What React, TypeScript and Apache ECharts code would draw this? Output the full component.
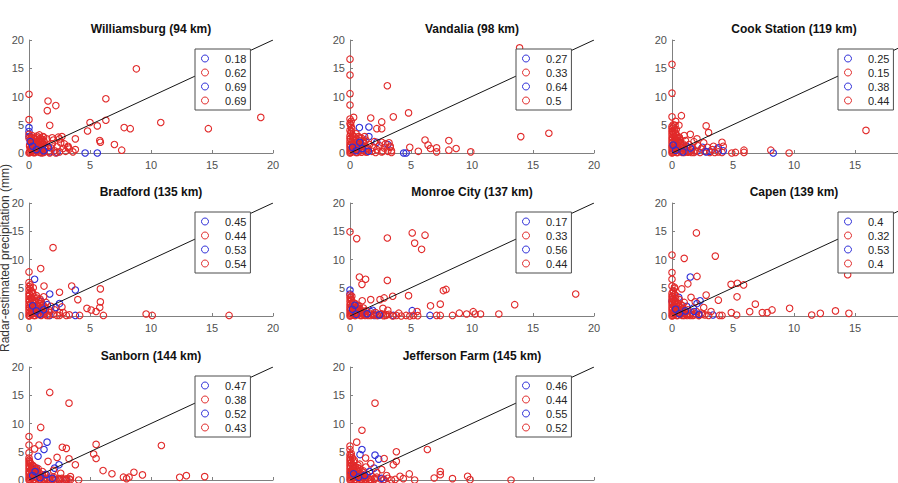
import { useEffect, useRef } from "react";
import * as echarts from "echarts";

// Station titles, in panel order (row by row)
const stationTitles = [
  "Williamsburg (94 km)",
  "Vandalia (98 km)",
  "Cook Station (119 km)",
  "Bradford (135 km)",
  "Monroe City (137 km)",
  "Capen (139 km)",
  "Sanborn (144 km)",
  "Jefferson Farm (145 km)",
];

// Correlation values shown in each panel's legend (blue, red, blue, red)
const williamsburgLegend = ["0.18", "0.62", "0.69", "0.69"];
const vandaliaLegend = ["0.27", "0.33", "0.64", "0.5"];
const cookStationLegend = ["0.25", "0.15", "0.38", "0.44"];
const bradfordLegend = ["0.45", "0.44", "0.53", "0.54"];
const monroeCityLegend = ["0.17", "0.33", "0.56", "0.44"];
const capenLegend = ["0.4", "0.32", "0.53", "0.4"];
const sanbornLegend = ["0.47", "0.38", "0.52", "0.43"];
const jeffersonFarmLegend = ["0.46", "0.44", "0.55", "0.52"];

const axisTicks = [0, 5, 10, 15, 20];

// ---- Williamsburg ----
const williamsburgBlue1 = [[0, 4.5], [0, 3.8], [0, 2.9], [4.6, 0], [5.6, 0], [0.9, 0.1], [1.7, 0.2], [2.3, 0.1]];
const williamsburgRedCore = [[0.05, 0.15], [0.25, 0.35], [0.45, 0.05], [0.65, 0.3], [0.85, 0.15], [1.05, 0.4], [1.25, 0.25], [0.1, 0.75], [0.3, 0.95], [0.5, 0.7], [0.7, 1.05], [0.9, 0.85], [1.1, 0.8], [1.3, 1.0], [0.05, 1.2], [0.2, 1.35], [0.4, 1.6], [0.6, 1.3], [0.8, 1.55], [1.0, 1.4], [1.2, 1.5], [0.15, 1.85], [0.35, 2.05], [0.55, 2.3], [0.75, 1.95], [0.95, 2.05], [1.15, 2.3], [0, 2.6], [0.2, 2.75], [0.45, 2.55], [0.65, 2.7], [0.85, 2.45], [1.05, 1.9], [0.3, 0.55], [0.6, 0.5]];
const williamsburgRed1 = [[0, 0], [0.1, 0.3], [0.2, 0.9], [0.05, 1.4], [0.3, 1.8], [0.1, 2.3], [0.4, 2.6], [0.5, 0.2], [0.6, 0.8], [0.45, 1.3], [0.7, 1.7], [0.8, 2.2], [0.9, 0.5], [1.0, 1.1], [1.1, 1.6], [1.2, 0.1], [1.3, 0.7], [1.25, 2.0], [1.5, 1.2], [1.6, 0.3], [1.8, 0.9], [1.9, 1.6], [2.1, 0.4], [2.3, 1.1], [2.5, 0.2], [2.6, 1.8], [2.8, 0.8], [3.0, 0.3], [3.2, 1.0], [0.15, 0.6], [0.35, 0.1], [0.55, 1.9], [0.75, 0.4], [0.95, 2.6], [0.25, 3.1], [1.45, 2.5], [2.0, 2.3], [0, 3.3], [0.65, 3.0], [1.05, 0], [1.7, 0], [2.2, 0], [0.85, 1.4], [0.3, 0.5], [1.15, 2.9]];
const williamsburgBlue2 = [[0.3, 1.2], [0.6, 0.6], [1.2, 0.4], [0.1, 2.0], [1.6, 1.0]];
const williamsburgRed2 = [[0, 10.4], [0, 5.9], [1.56, 9.2], [1.5, 7.5], [2.2, 8.4], [1.7, 4.9], [8.8, 14.9], [6.3, 9.6], [5.0, 5.4], [5.6, 4.8], [6.3, 5.8], [4.8, 3.9], [7.8, 4.5], [8.3, 4.3], [10.8, 5.4], [14.7, 4.3], [19.0, 6.3], [3.8, 2.5], [5.8, 2.2], [5.85, 1.9], [7.0, 1.5], [7.6, 0.5], [2.7, 2.9], [2.4, 2.8], [0.85, 3.2], [1.2, 2.8], [3.3, 0.7], [3.2, 1.2], [3.8, 0.6], [2.9, 1.6], [2.5, 2.5], [1.9, 2.7], [3.6, 0.2]];

// ---- Vandalia ----
const vandaliaBlue1 = [[0.77, 4.5], [1.55, 4.6], [1.55, 2.9], [2.2, 1.9], [3.1, 1.5], [0.4, 1.8], [4.4, 0], [4.6, 0]];
const vandaliaRedCore = [[0.05, 0.1], [0.25, 0.3], [0.5, 0.1], [0.7, 0.35], [0.95, 0.15], [1.15, 0.4], [1.4, 0.2], [0.1, 0.7], [0.35, 0.9], [0.55, 0.65], [0.8, 1.0], [1.05, 0.8], [1.3, 1.05], [1.5, 0.7], [0.05, 1.3], [0.3, 1.5], [0.5, 1.25], [0.75, 1.55], [0.95, 1.35], [1.2, 1.6], [0.15, 1.9], [0.4, 2.1], [0.6, 1.85], [0.85, 2.2], [1.05, 1.95], [1.3, 2.3], [0.05, 2.5], [0.25, 2.7], [0.5, 2.5], [0.7, 2.9], [0.95, 2.6], [0.2, 3.2], [0.1, 3.8], [0.15, 4.3], [0.05, 5.0]];
const vandaliaRed1 = [[0, 0], [0, 0.5], [0, 1.0], [0, 1.5], [0, 2.0], [0, 2.5], [0, 3.0], [0.05, 3.5], [0, 4.0], [0.1, 4.6], [0, 5.2], [0.15, 0.2], [0.3, 0.7], [0.25, 1.3], [0.4, 2.2], [0.35, 2.9], [0.6, 0.1], [0.7, 0.9], [0.65, 1.6], [0.9, 0.4], [1.0, 1.2], [1.1, 2.1], [1.3, 0.2], [1.4, 0.8], [1.6, 1.5], [1.8, 0.3], [1.9, 1.0], [2.1, 0.1], [2.2, 0.6], [2.4, 1.3], [2.6, 0.2], [2.8, 0.9], [2.9, 1.6], [3.1, 0.3], [3.3, 1.0], [3.4, 0.1], [0.5, 3.4], [0.8, 2.7], [1.2, 2.9], [2.0, 2.0], [2.6, 1.9], [3.2, 1.8]];
const vandaliaBlue2 = [[0.2, 1.0], [0.5, 0.4], [1.0, 0.8], [0.8, 1.9], [1.5, 0.3]];
const vandaliaRed2 = [[0, 16.6], [0, 13.8], [0, 10.5], [0, 8.5], [0, 6.0], [3.06, 11.9], [1.7, 6.2], [2.6, 5.5], [2.2, 4.3], [2.6, 4.3], [3.55, 6.4], [4.8, 7.1], [13.9, 18.6], [14.0, 2.9], [16.3, 3.5], [6.15, 2.3], [6.4, 1.4], [6.6, 0.8], [7.1, 0.9], [8.1, 2.2], [8.1, 0.5], [8.7, 0.8], [9.9, 0.2], [7.1, 0.2], [5.6, 0.3], [4.9, 1.0], [3.3, 1.2], [3.4, 0.4], [2.7, 0.3], [0.3, 6.3], [0.1, 5.6]];

// ---- Cook Station ----
const cookStationBlue1 = [[0.4, 2.2], [0.7, 1.8], [1.2, 1.2], [2.05, 0.3], [3.1, 0.3], [3.7, 0.7], [3.8, 0.9], [8.3, 0], [0.2, 1.0], [1.6, 0.6], [2.5, 1.0]];
const cookStationRedCore = [[0.05, 0.1], [0.25, 0.3], [0.45, 0.1], [0.65, 0.3], [0.85, 0.1], [1.05, 0.35], [1.3, 0.15], [1.55, 0.35], [1.8, 0.1], [0.1, 0.7], [0.3, 0.9], [0.5, 0.7], [0.7, 1.0], [0.95, 0.8], [1.2, 1.0], [0.05, 1.35], [0.25, 1.55], [0.45, 1.3], [0.65, 1.6], [0.9, 1.4], [0.1, 2.0], [0.3, 2.2], [0.5, 1.95], [0.7, 2.3], [0.05, 2.6], [0.25, 2.85], [0.45, 2.65], [0.1, 3.2], [0.3, 3.55], [0.05, 3.9], [0.2, 4.1], [0.1, 4.6], [0.25, 4.9], [0.4, 3.0], [0.6, 2.7]];
const cookStationRed1 = [[0, 0], [0, 0.4], [0, 0.9], [0, 1.3], [0, 1.8], [0, 2.3], [0, 2.8], [0, 3.3], [0, 3.8], [0, 4.3], [0.1, 5.0], [0.15, 0.2], [0.2, 0.7], [0.25, 1.5], [0.2, 2.5], [0.3, 3.4], [0.4, 0.1], [0.5, 0.6], [0.45, 1.2], [0.6, 2.0], [0.7, 0.3], [0.8, 1.0], [0.9, 1.6], [1.0, 0.1], [1.1, 0.7], [1.3, 0.3], [1.4, 1.5], [1.6, 0.1], [1.7, 0.9], [1.9, 0.4], [2.1, 1.3], [2.3, 0.1], [2.4, 0.7], [2.7, 0.3], [2.9, 1.0], [3.1, 0.1], [3.3, 0.6], [3.5, 0.1], [3.8, 0.2], [4.1, 0.1], [0.6, 2.8], [1.1, 2.2], [0.35, 4.2]];
const cookStationBlue2 = [[0.1, 1.4], [0.3, 0.5], [0.9, 0.2], [1.5, 0.9], [2.8, 0.2], [4.2, 0.4]];
const cookStationRed2 = [[0, 15.7], [0, 10.6], [0, 6.4], [0.77, 6.6], [0.57, 4.9], [0, 4.7], [1.0, 3.1], [1.5, 3.3], [2.8, 4.8], [3.0, 3.6], [2.05, 2.5], [4.1, 1.9], [4.2, 1.2], [3.4, 1.2], [4.9, 0], [5.9, 0.5], [5.9, 0.1], [8.1, 0.5], [9.6, 0], [15.9, 4.0], [5.2, 0.1], [2.6, 1.8], [1.8, 2.0], [0.3, 5.6], [0.1, 3.6]];

// ---- Bradford ----
const bradfordBlue1 = [[0.46, 6.5], [1.7, 3.9], [3.8, 4.6], [2.5, 2.2], [1.0, 2.6], [3.8, 0.1], [1.7, 0.1]];
const bradfordRedCore = [[0.05, 0.1], [0.25, 0.35], [0.5, 0.1], [0.7, 0.3], [0.95, 0.15], [1.2, 0.35], [1.45, 0.1], [0.1, 0.8], [0.35, 0.95], [0.6, 0.7], [0.85, 0.95], [1.1, 0.75], [1.35, 0.9], [0.05, 1.4], [0.3, 1.55], [0.55, 1.3], [0.8, 1.6], [1.05, 1.4], [1.3, 1.6], [0.15, 2.0], [0.4, 2.15], [0.65, 1.95], [0.9, 2.2], [1.15, 2.0], [0.05, 2.6], [0.3, 2.8], [0.55, 2.55], [0.8, 2.75], [0.15, 3.2], [0.4, 3.35], [0.65, 3.15], [0.05, 3.8], [0.3, 3.95], [0.2, 4.4], [0.1, 4.9]];
const bradfordRed1 = [[0, 0], [0, 0.5], [0, 1.0], [0, 1.5], [0, 2.0], [0, 2.5], [0, 3.0], [0, 3.5], [0, 4.0], [0, 4.6], [0.15, 0.3], [0.2, 1.2], [0.15, 2.2], [0.25, 3.2], [0.3, 4.1], [0.4, 0.1], [0.45, 0.8], [0.5, 1.7], [0.45, 2.7], [0.6, 3.6], [0.7, 0.4], [0.75, 1.3], [0.8, 2.2], [0.9, 3.0], [1.0, 0.1], [1.05, 0.9], [1.1, 1.8], [1.3, 0.4], [1.35, 1.3], [1.4, 2.4], [1.6, 0.1], [1.7, 0.9], [1.8, 1.7], [2.0, 0.3], [2.1, 1.1], [2.3, 0.1], [2.5, 0.6], [0.35, 5.0], [0.1, 5.5], [1.2, 3.4]];
const bradfordBlue2 = [[0.3, 1.8], [0.6, 0.9], [1.2, 1.1], [1.5, 2.0], [2.2, 1.5], [0.9, 0.3]];
const bradfordRed2 = [[1.97, 12.1], [0, 7.8], [0.96, 8.4], [0, 5.9], [0, 5.2], [1.23, 5.3], [2.5, 4.2], [3.5, 5.3], [4.0, 2.9], [5.85, 4.8], [5.85, 2.5], [5.8, 1.5], [4.75, 1.35], [5.1, 1.06], [5.5, 0.8], [6.1, 0.1], [9.6, 0.35], [10.1, 0.1], [16.4, 0.1], [3.06, 0.1], [2.5, 0.1], [4.15, 0.1], [2.7, 1.6], [3.3, 0.2], [2.8, 0.6]];

// ---- Monroe City ----
const monroeCityBlue1 = [[0, 4.6], [0.22, 2.1], [1.7, 0.76], [1.85, 1.0], [2.0, 0.1], [5.1, 0.94], [6.56, 0.1], [3.55, 0.1], [0, 3.9]];
const monroeCityRedCore = [[0.05, 0.1], [0.25, 0.3], [0.45, 0.1], [0.65, 0.35], [0.85, 0.1], [1.05, 0.3], [1.25, 0.1], [0.1, 0.65], [0.3, 0.85], [0.5, 0.6], [0.7, 0.85], [0.9, 0.6], [1.1, 0.8], [0.05, 1.15], [0.25, 1.35], [0.45, 1.1], [0.65, 1.3], [0.85, 1.15], [0.15, 1.7], [0.35, 1.85], [0.55, 1.6], [0.75, 1.8], [0.05, 2.2], [0.25, 2.4], [0.45, 2.15], [0.1, 2.75], [0.05, 3.3], [0.15, 3.5], [1.45, 0.3], [1.7, 0.1], [1.95, 0.35], [2.2, 0.1], [2.45, 0.25], [2.75, 0.05], [3.0, 0.2]];
const monroeCityRed1 = [[0, 0], [0, 0.5], [0, 1.0], [0, 1.5], [0, 2.0], [0, 2.6], [0, 3.2], [0, 3.7], [0.15, 0.2], [0.2, 0.8], [0.25, 1.5], [0.3, 2.3], [0.4, 0.1], [0.5, 0.6], [0.55, 1.2], [0.7, 0.3], [0.8, 0.9], [0.95, 0.1], [1.0, 0.6], [1.2, 0.2], [1.3, 0.9], [1.5, 0.1], [1.6, 0.5], [1.9, 0.2], [2.1, 0.6], [2.3, 0.1], [2.6, 0.4], [2.9, 0.1], [3.2, 0.3], [3.5, 0], [3.8, 0.1], [4.2, 0], [4.6, 0.1], [4.9, 0], [5.2, 0.1], [0.1, 2.9], [0.6, 1.8], [1.1, 1.4]];
const monroeCityBlue2 = [[0.2, 1.2], [0.5, 0.3], [1.4, 0.4], [2.4, 0.2], [0.4, 1.9]];
const monroeCityRed2 = [[0, 14.9], [0.55, 13.7], [3.06, 13.8], [5.1, 14.7], [5.3, 12.9], [6.15, 14.3], [5.87, 11.8], [0.77, 6.9], [1.28, 6.5], [0.98, 5.6], [3.06, 6.3], [1.0, 2.7], [1.7, 2.9], [2.46, 2.9], [2.8, 3.2], [3.5, 3.5], [4.8, 3.6], [7.65, 4.5], [7.87, 4.7], [6.6, 1.8], [7.4, 2.1], [5.5, 0.8], [5.55, 0.06], [8.96, 0.5], [9.56, 0.35], [10.1, 0.76], [10.25, 0.35], [10.7, 0.35], [12.2, 0.35], [13.5, 2.0], [18.5, 3.9], [8.4, 0.1], [7.1, 0.1], [7.4, 0.1], [2.7, 1.35], [3.1, 1.0], [4.0, 0.5]];

// ---- Capen ----
const capenBlue1 = [[1.5, 6.9], [0.55, 3.3], [2.3, 2.7], [2.05, 2.2], [3.36, 0.18], [1.2, 1.7], [1.75, 1.4], [0, 2.6]];
const capenRedCore = [[0.05, 0.1], [0.25, 0.3], [0.45, 0.1], [0.65, 0.3], [0.85, 0.1], [1.05, 0.35], [1.25, 0.1], [0.1, 0.7], [0.3, 0.9], [0.5, 0.65], [0.7, 0.9], [0.9, 0.7], [1.1, 0.9], [0.05, 1.25], [0.25, 1.45], [0.45, 1.2], [0.65, 1.45], [0.85, 1.25], [0.15, 1.8], [0.35, 2.0], [0.55, 1.75], [0.75, 2.0], [0.05, 2.3], [0.25, 2.55], [0.45, 2.3], [0.1, 2.9], [0.3, 3.1], [0.05, 3.4], [0.2, 3.8], [0.1, 4.2], [1.45, 0.3], [1.7, 0.1], [1.95, 0.35], [2.2, 0.1], [2.5, 0.3]];
const capenRed1 = [[0, 0], [0, 0.5], [0, 1.0], [0, 1.5], [0, 2.0], [0, 2.5], [0, 3.0], [0, 3.5], [0, 4.0], [0.1, 4.5], [0.15, 0.2], [0.2, 0.9], [0.2, 1.7], [0.25, 2.6], [0.3, 3.6], [0.4, 0.1], [0.45, 0.6], [0.5, 1.3], [0.55, 2.1], [0.7, 0.3], [0.75, 1.0], [0.85, 1.8], [1.0, 0.1], [1.05, 0.7], [1.2, 0.3], [1.3, 1.1], [1.5, 0.1], [1.6, 0.6], [1.8, 0.2], [2.0, 0.8], [2.2, 0.1], [2.4, 0.5], [2.7, 0.2], [3.0, 0.1], [0.6, 2.9], [1.0, 2.4], [0.2, 4.9]];
const capenBlue2 = [[0.3, 1.2], [0.6, 0.4], [1.1, 0.9], [1.8, 0.8], [2.2, 0.3]];
const capenRed2 = [[2.0, 14.7], [0, 10.8], [1.0, 10.2], [3.55, 10.6], [0, 7.7], [0, 6.5], [2.05, 7.0], [0, 5.3], [0.2, 5.1], [0.8, 4.8], [1.3, 5.7], [1.56, 3.3], [2.8, 3.7], [3.8, 2.8], [4.84, 5.6], [5.36, 5.8], [5.87, 5.5], [5.33, 3.4], [6.83, 2.1], [6.37, 0.77], [7.4, 0.6], [7.8, 0.6], [8.2, 1.07], [9.64, 1.36], [11.45, 0.18], [12.16, 0.47], [13.4, 0.9], [14.5, 0.47], [14.4, 7.3], [5.3, 0.18], [4.86, 0.6], [3.9, 0.1], [4.1, 0.1], [3.2, 0.8], [2.6, 1.5], [1.9, 2.5]];

// ---- Sanborn ----
const sanbornBlue1 = [[1.48, 6.7], [1.23, 5.4], [0.74, 4.2], [0.22, 2.0], [0.6, 2.1], [2.1, 2.1], [2.46, 2.7], [1.7, 0], [2.5, 0], [3.06, 0]];
const sanbornRedCore = [[0.05, 0.1], [0.25, 0.3], [0.45, 0.1], [0.65, 0.3], [0.85, 0.1], [1.05, 0.35], [1.25, 0.1], [0.1, 0.7], [0.3, 0.9], [0.5, 0.65], [0.7, 0.9], [0.9, 0.7], [1.1, 0.9], [0.05, 1.25], [0.25, 1.45], [0.45, 1.2], [0.65, 1.45], [0.85, 1.25], [0.15, 1.8], [0.35, 2.0], [0.55, 1.75], [0.75, 2.0], [0.05, 2.3], [0.25, 2.55], [0.45, 2.3], [0.1, 2.9], [0.05, 3.3], [1.45, 0.3], [1.7, 0.1], [1.95, 0.3], [2.2, 0.05], [2.5, 0.25], [2.8, 0.05], [3.1, 0.2], [3.4, 0.05]];
const sanbornRed1 = [[0, 0], [0, 0.5], [0, 1.0], [0, 1.5], [0, 2.0], [0, 2.5], [0, 3.0], [0, 3.5], [0.15, 0.2], [0.2, 0.9], [0.25, 1.7], [0.3, 2.6], [0.4, 0.1], [0.45, 0.6], [0.5, 1.3], [0.7, 0.3], [0.75, 1.0], [0.9, 0.1], [1.0, 0.6], [1.2, 0.2], [1.3, 0.9], [1.5, 0.1], [1.7, 0.5], [1.9, 0.1], [2.1, 0.4], [2.4, 0.1], [2.7, 0.3], [3.0, 0.1], [3.3, 0.2], [0.6, 1.9], [1.1, 1.5], [0.1, 3.0]];
const sanbornBlue2 = [[0.3, 0.8], [0.9, 0.4], [1.4, 1.0], [0.5, 1.5], [1.9, 0.3]];
const sanbornRed2 = [[1.7, 15.5], [3.28, 13.6], [0.96, 9.3], [0, 7.7], [0, 6.2], [0, 4.8], [0, 3.9], [0.46, 5.5], [0.82, 6.2], [2.73, 5.8], [3.06, 5.6], [1.56, 3.3], [2.3, 4.0], [3.28, 3.75], [3.8, 2.7], [5.5, 6.3], [5.3, 4.6], [5.5, 3.8], [6.07, 1.67], [6.8, 1.1], [7.74, 0.5], [8.0, 0.24], [8.2, 0.5], [8.6, 1.37], [9.3, 0.9], [10.85, 6.1], [12.35, 0.48], [12.9, 0.77], [14.4, 0.6], [4.07, 0], [2.0, 1.7], [2.6, 1.2], [3.4, 0.6]];

// ---- Jefferson Farm ----
const jeffersonFarmBlue1 = [[0.82, 4.5], [0.98, 5.4], [2.05, 4.4], [1.97, 2.1], [2.35, 3.7], [2.73, 0], [0.27, 2.1], [0.14, 1.2]];
const jeffersonFarmRedCore = [[0.05, 0.1], [0.25, 0.3], [0.45, 0.1], [0.65, 0.3], [0.85, 0.1], [1.05, 0.35], [1.25, 0.1], [0.1, 0.7], [0.3, 0.9], [0.5, 0.65], [0.7, 0.9], [0.9, 0.7], [1.1, 0.9], [0.05, 1.25], [0.25, 1.45], [0.45, 1.2], [0.65, 1.45], [0.85, 1.25], [1.05, 1.4], [0.15, 1.8], [0.35, 2.0], [0.55, 1.75], [0.75, 2.0], [0.05, 2.35], [0.25, 2.6], [0.45, 2.35], [0.65, 2.6], [0.1, 3.0], [0.3, 3.2], [0.05, 3.6], [0.2, 3.9], [0.1, 4.3], [1.45, 0.3], [1.7, 0.1], [2.0, 0.3]];
const jeffersonFarmRed1 = [[0, 0], [0, 0.5], [0, 1.0], [0, 1.5], [0, 2.0], [0, 2.5], [0, 3.0], [0, 3.5], [0, 4.0], [0.15, 0.2], [0.2, 0.9], [0.25, 1.7], [0.3, 2.6], [0.35, 3.5], [0.4, 0.1], [0.5, 0.6], [0.55, 1.3], [0.6, 2.2], [0.75, 0.3], [0.8, 1.0], [0.95, 0.1], [1.05, 0.7], [1.1, 1.6], [1.3, 0.2], [1.4, 0.9], [1.6, 0.1], [1.8, 0.6], [2.0, 0.1], [2.2, 0.5], [2.5, 0.2], [2.8, 0.1], [3.1, 0.3], [3.4, 0], [3.7, 0.1], [0.8, 2.8], [1.3, 2.3], [0.1, 4.7]];
const jeffersonFarmBlue2 = [[0.3, 1.1], [0.7, 0.5], [1.2, 0.8], [1.6, 1.5], [2.6, 0.3]];
const jeffersonFarmRed2 = [[2.05, 13.6], [0.98, 8.8], [0.55, 6.7], [0, 6.0], [0, 5.4], [0, 4.5], [1.28, 3.9], [2.8, 3.8], [3.8, 5.0], [3.8, 3.3], [3.55, 2.7], [2.6, 1.85], [6.34, 5.4], [4.86, 1.07], [5.3, 0], [6.9, 0.36], [7.4, 0.95], [7.4, 1.5], [8.4, 0.24], [9.64, 0.65], [9.84, 0.06], [13.2, 0], [4.1, 0.65], [4.37, 0.24], [1.7, 2.9], [2.2, 1.3], [3.0, 0.8]];

// Per panel: [blue set 1, red set 1, blue set 2, red set 2]
const panelSeries = [
  [williamsburgBlue1, [...williamsburgRedCore, ...williamsburgRed1], williamsburgBlue2, williamsburgRed2],
  [vandaliaBlue1, [...vandaliaRedCore, ...vandaliaRed1], vandaliaBlue2, vandaliaRed2],
  [cookStationBlue1, [...cookStationRedCore, ...cookStationRed1], cookStationBlue2, cookStationRed2],
  [bradfordBlue1, [...bradfordRedCore, ...bradfordRed1], bradfordBlue2, bradfordRed2],
  [monroeCityBlue1, [...monroeCityRedCore, ...monroeCityRed1], monroeCityBlue2, monroeCityRed2],
  [capenBlue1, [...capenRedCore, ...capenRed1], capenBlue2, capenRed2],
  [sanbornBlue1, [...sanbornRedCore, ...sanbornRed1], sanbornBlue2, sanbornRed2],
  [jeffersonFarmBlue1, [...jeffersonFarmRedCore, ...jeffersonFarmRed1], jeffersonFarmBlue2, jeffersonFarmRed2],
];
const panelLegends = [
  williamsburgLegend, vandaliaLegend, cookStationLegend, bradfordLegend,
  monroeCityLegend, capenLegend, sanbornLegend, jeffersonFarmLegend,
];

const BLUE = "#2e2ed8";
const RED = "#e12a2a";
const AXIS_COLOR = "#808080";
const LABEL_COLOR = "#505050";
const FONT = "'Liberation Sans', Arial, Helvetica, sans-serif";

const COL_LEFT = [29, 350, 672];
const ROW_TOP = [40, 203, 367];
const PLOT_W = 244;
const PLOT_H = 113;

export default function App() {
  const ref = useRef<HTMLDivElement>(null);

  useEffect(() => {
    if (!ref.current) return;
    const chart = echarts.init(ref.current, null, { renderer: "svg" });

    const grid: any[] = [];
    const xAxis: any[] = [];
    const yAxis: any[] = [];
    const series: any[] = [];
    const legend: any[] = [];
    const graphic: any[] = [];
    const labelOf: Record<string, string> = {};

    const baseAxis = {
      type: "value",
      min: axisTicks[0],
      max: axisTicks[axisTicks.length - 1],
      interval: axisTicks[1] - axisTicks[0],
      splitLine: { show: false },
      axisLine: { show: true, onZero: false, lineStyle: { color: AXIS_COLOR, width: 1 } },
      axisTick: { show: true, inside: true, length: 3, lineStyle: { color: AXIS_COLOR } },
    };

    panelSeries.forEach((sets, i) => {
      const left = COL_LEFT[i % 3];
      const top = ROW_TOP[Math.floor(i / 3)];
      grid.push({
        left,
        top,
        width: PLOT_W,
        height: PLOT_H,
        containLabel: false,
        outerBoundsMode: "none",
      });
      xAxis.push({
        ...baseAxis,
        gridIndex: i,
        axisLabel: { fontSize: 11, color: LABEL_COLOR, fontFamily: FONT, margin: 6 },
      });
      yAxis.push({
        ...baseAxis,
        gridIndex: i,
        axisLabel: { fontSize: 11, color: LABEL_COLOR, fontFamily: FONT, margin: 5 },
      });

      const names: string[] = [];
      sets.forEach((pts, k) => {
        const name = `${stationTitles[i]}#${k}`;
        names.push(name);
        labelOf[name] = panelLegends[i][k];
        series.push({
          type: "scatter",
          name,
          xAxisIndex: i,
          yAxisIndex: i,
          data: pts,
          symbol: "circle",
          symbolSize: 6.5,
          clip: false,
          silent: true,
          itemStyle: {
            color: "rgba(0,0,0,0)",
            borderColor: k % 2 === 0 ? BLUE : RED,
            borderWidth: 1.1,
            opacity: 1,
          },
        });
      });

      // 1:1 reference line
      series.push({
        type: "line",
        xAxisIndex: i,
        yAxisIndex: i,
        data: [[0, 0], [20, 20]],
        symbol: "none",
        silent: true,
        z: 3,
        lineStyle: { color: "#151515", width: 1 },
      });

      legend.push({
        orient: "vertical",
        left: left + 166,
        top: top + 9,
        selectedMode: false,
        data: names.map((n, k) => ({
          name: n,
          icon: "circle",
          itemStyle: {
            color: "rgba(0,0,0,0)",
            borderColor: k % 2 === 0 ? BLUE : RED,
            borderWidth: 1,
          },
        })),
        formatter: (n: string) => labelOf[n],
        itemWidth: 30,
        itemHeight: 7,
        itemGap: 3,
        padding: [4, 4, 4, 6],
        backgroundColor: "#ffffff",
        borderColor: "#4d4d4d",
        borderWidth: 1,
        textStyle: { fontSize: 11, color: "#262626", fontFamily: FONT },
      });

      graphic.push({
        type: "text",
        x: left + PLOT_W / 2,
        y: top - 11,
        silent: true,
        style: {
          text: stationTitles[i],
          fill: "#111111",
          fontSize: 12,
          fontWeight: "bold",
          fontFamily: FONT,
          align: "center",
          verticalAlign: "middle",
          textAlign: "center",
          textVerticalAlign: "middle",
        },
      });
    });

    graphic.push({
      type: "text",
      x: 5,
      y: 258,
      rotation: Math.PI / 2,
      silent: true,
      style: {
        text: "Radar-estimated precipitation (mm)",
        fill: "#333333",
        fontSize: 12,
        fontFamily: FONT,
        align: "center",
        verticalAlign: "middle",
        textAlign: "center",
        textVerticalAlign: "middle",
      },
    });

    chart.setOption({
      animation: false,
      backgroundColor: "#ffffff",
      grid,
      xAxis,
      yAxis,
      series,
      legend,
      graphic,
    });

    return () => chart.dispose();
  }, []);

  return (
    <div
      ref={ref}
      style={{ position: "fixed", left: 0, top: 0, width: 898, height: 483 }}
    />
  );
}
